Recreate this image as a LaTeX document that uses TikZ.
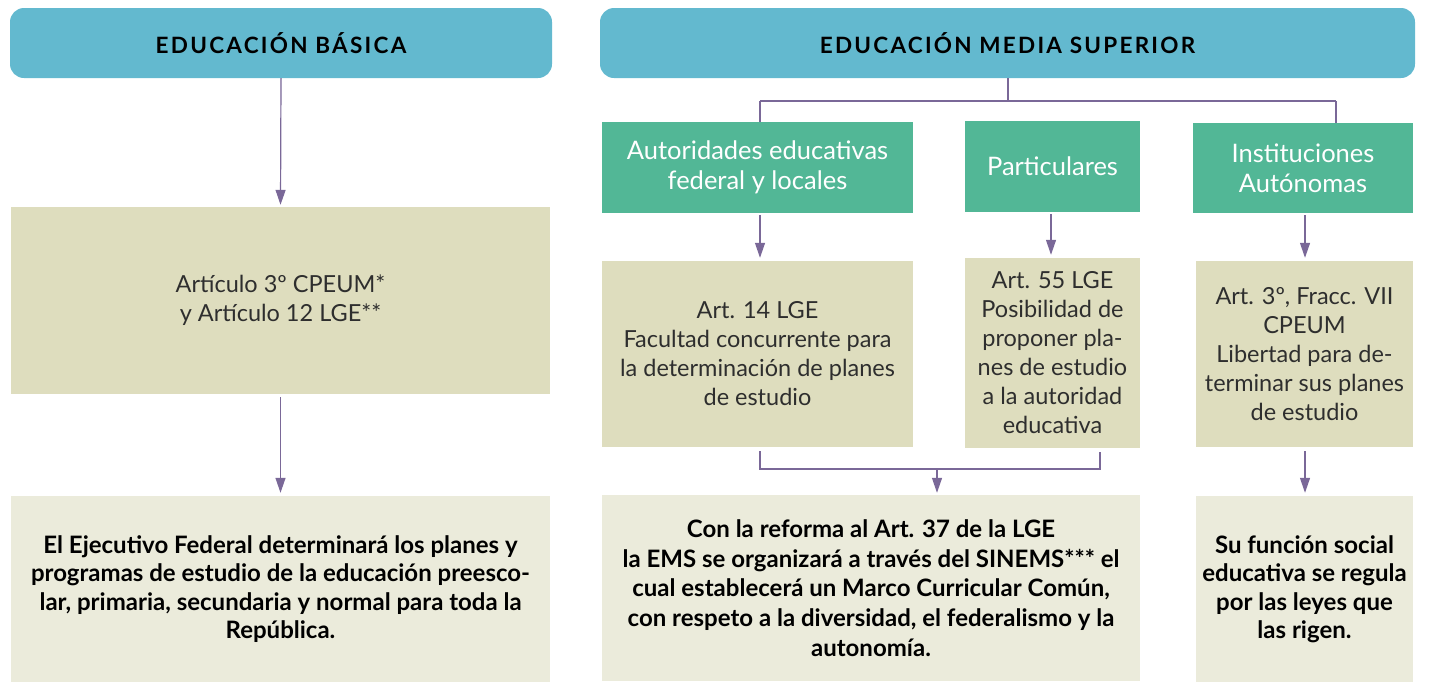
\documentclass[tikz,border=0pt]{standalone}
\usepackage{fontspec}
\setmainfont{Lato}
\usetikzlibrary{arrows.meta,calc}
\definecolor{hdr}{HTML}{63B9CF}
\definecolor{grn}{HTML}{52B796}
\definecolor{tan}{HTML}{DEDDBE}
\definecolor{lgt}{HTML}{EBEBDB}
\definecolor{lin}{HTML}{7A6898}
\definecolor{txt}{HTML}{2E2E2E}
\begin{document}
\begin{tikzpicture}[x=1pt,y=-1pt,
  header/.style={fill=hdr,rounded corners=14pt,inner sep=0pt,
    font=\fontsize{22.5}{24}\selectfont\bfseries\addfontfeature{LetterSpace=10},text=black},
  greenbox/.style={fill=grn,inner sep=0pt,align=center,text=white,
    font=\fontsize{25.5}{30}\selectfont},
  tanbox/.style={fill=tan,inner sep=0pt,align=center,text=txt,
    font=\fontsize{23.5}{29}\selectfont},
  lightbox/.style={fill=lgt,inner sep=0pt,align=center,text=black,
    font=\fontsize{24}{28.5}\selectfont\bfseries},
  conn/.style={draw=lin,line width=1.2pt},
  arr/.style={conn,-{Triangle[width=10pt,length=15pt]},fill=lin}
]
\useasboundingbox (0,0) rectangle (1431,681);
% headers
\node[header,minimum width=542pt,minimum height=70pt] (h1) at (281,43) {EDUCACIÓN BÁSICA};
\node[header,minimum width=815pt,minimum height=70pt] (h2) at (1007.5,43) {EDUCACIÓN MEDIA SUPERIOR};
% left column
\node[tanbox,minimum width=539pt,minimum height=187pt] (b1) at (280.5,300.5)
  {Artículo 3º CPEUM*\\y Artículo 12 LGE**};
\node[lightbox,minimum width=539pt,minimum height=186pt] (b2) at (280.5,589)
  {El Ejecutivo Federal determinará los planes y\\programas de estudio de la educación preesco-\\lar, primaria, secundaria y normal para toda la\\República.};
% green boxes
\node[greenbox,minimum width=311pt,minimum height=91pt] (gA) at (757.5,167.5)
  {Autoridades educativas\\federal y locales};
\node[greenbox,minimum width=175pt,minimum height=91pt] (gB) at (1052.5,166.5)
  {Particulares};
\node[greenbox,minimum width=220pt,minimum height=90pt] (gC) at (1303,168)
  {Instituciones\\Autónomas};
% tan boxes
\node[tanbox,minimum width=311pt,minimum height=186pt] (tA) at (757.5,354)
  {Art. 14 LGE\\Facultad concurrente para\\la determinación de planes\\de estudio};
\node[tanbox,minimum width=175pt,minimum height=190pt] (tB) at (1052.5,353)
  {Art. 55 LGE\\Posibilidad de\\proponer pla-\\nes de estudio\\a la autoridad\\educativa};
\node[tanbox,minimum width=217pt,minimum height=186pt] (tC) at (1304.5,354)
  {Art. 3º, Fracc. VII\\CPEUM\\Libertad para de-\\terminar sus planes\\de estudio};
% bottom boxes
\node[lightbox,minimum width=538pt,minimum height=186pt,
  font=\fontsize{24}{29.8}\selectfont\bfseries] (bD) at (871,588)
  {Con la reforma al Art. 37 de la LGE\\la EMS se organizará a través del SINEMS*** el\\cual establecerá un Marco Curricular Común,\\con respeto a la diversidad, el federalismo y la\\autonomía.};
\node[lightbox,minimum width=217pt,minimum height=186pt] (bE) at (1304.5,589)
  {Su función social\\educativa se regula\\por las leyes que\\las rigen.};
% connectors left
\draw[arr,shorten >=2pt] (h1.south) -- (b1.north);
\draw[arr,shorten <=3pt,shorten >=3pt] (b1.south) -- (b2.north);
% top branch right
\coordinate (j1) at (1008,101);
\coordinate (jA) at (760,101);
\coordinate (jC) at (1336,101);
\draw[conn] (h2.south -| j1) -- (j1);
\draw[conn] (jA) -- (jC);
\draw[conn] (jA) -- (jA |- gA.north);
\draw[conn] (jC) -- (jC |- gC.north);
% green to tan
\coordinate (xA) at (760,0);
\coordinate (xB) at (1051,0);
\coordinate (xC) at (1305,0);
\draw[arr,shorten <=2pt,shorten >=3pt] (xA |- gA.south) -- (xA |- tA.north);
\draw[arr,shorten <=2pt,shorten >=3pt] (xB |- gB.south) -- (xB |- tB.north);
\draw[arr,shorten <=2pt,shorten >=3pt] (xC |- gC.south) -- (xC |- tC.north);
% merge
\coordinate (m) at (937,469);
\coordinate (xB2) at (1100,0);
\draw[conn] ([yshift=-4pt]xA |- tA.south) -- (xA |- m) -- (xB2 |- m) -- ([yshift=-4pt]xB2 |- tB.south);
\draw[arr,shorten >=2pt] (m) -- (m |- bD.north);
\draw[arr,shorten <=4pt,shorten >=3pt] (xC |- tC.south) -- (xC |- bE.north);
\end{tikzpicture}
\end{document}
